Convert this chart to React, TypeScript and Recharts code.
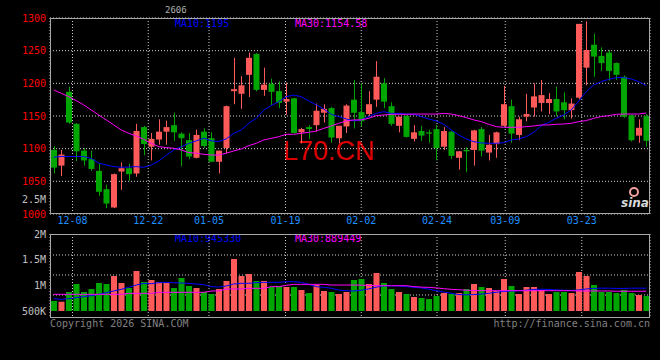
import { ComposedChart, Bar, Line, XAxis, YAxis, CartesianGrid, Cell } from "recharts";

const RED = "#ff5a5a";
const GREEN = "#00a600";
const GRID = "#cfcfcf";
const MONO = "'DejaVu Sans Mono', monospace";

// daily candles (index 0 .. 79)
const opens = [
  1098, 1074, 1187, 1138, 1097, 1084, 1066, 1038, 1010, 1065, 1070, 1062, 1133, 1103, 1114, 1126, 1136, 1123, 1113, 1086,
  1126, 1116, 1080, 1101, 1188, 1184, 1213, 1245, 1190, 1199, 1188, 1172, 1177, 1125, 1133, 1136, 1155, 1162, 1116, 1134,
  1175, 1156, 1153, 1175, 1200, 1165, 1135, 1150, 1115, 1127, 1125, 1130, 1103, 1126, 1086, 1098, 1098, 1130, 1094, 1107,
  1135, 1165, 1121, 1149, 1163, 1170, 1170, 1176, 1171, 1159, 1178, 1224, 1259, 1242, 1247, 1231, 1210, 1151, 1120, 1150,
];
const highs = [
  1104, 1098, 1195, 1139, 1101, 1097, 1078, 1045, 1062, 1079, 1077, 1138, 1135, 1124, 1145, 1143, 1155, 1125, 1124, 1129,
  1131, 1125, 1097, 1166, 1239, 1211, 1247, 1246, 1224, 1207, 1203, 1201, 1178, 1132, 1136, 1169, 1168, 1164, 1135, 1168,
  1205, 1200, 1188, 1234, 1208, 1171, 1149, 1151, 1136, 1135, 1129, 1136, 1133, 1127, 1096, 1102, 1129, 1133, 1121, 1126,
  1196, 1175, 1149, 1184, 1200, 1205, 1185, 1195, 1186, 1177, 1291, 1295, 1276, 1255, 1251, 1232, 1212, 1152, 1145, 1153,
];
const lows = [
  1062, 1058, 1138, 1081, 1074, 1066, 1028, 1009, 1009, 1037, 1051, 1057, 1090, 1082, 1106, 1106, 1112, 1073, 1084, 1085,
  1101, 1080, 1062, 1093, 1168, 1161, 1179, 1188, 1181, 1167, 1162, 1152, 1123, 1108, 1115, 1126, 1140, 1109, 1108, 1124,
  1131, 1134, 1149, 1164, 1162, 1135, 1125, 1117, 1111, 1112, 1109, 1082, 1098, 1084, 1068, 1064, 1074, 1088, 1082, 1086,
  1134, 1109, 1113, 1142, 1149, 1157, 1153, 1150, 1145, 1146, 1175, 1197, 1210, 1219, 1204, 1205, 1147, 1111, 1109, 1103,
];
const closes = [
  1071, 1091, 1140, 1096, 1082, 1069, 1034, 1016, 1061, 1070, 1061, 1127, 1107, 1115, 1126, 1133, 1125, 1116, 1088, 1121,
  1104, 1080, 1097, 1165, 1191, 1197, 1239, 1190, 1198, 1187, 1170, 1176, 1124, 1130, 1130, 1158, 1161, 1117, 1135, 1166,
  1155, 1142, 1168, 1210, 1172, 1138, 1149, 1118, 1125, 1120, 1123, 1101, 1127, 1089, 1096, 1096, 1128, 1097, 1106, 1125,
  1168, 1123, 1145, 1153, 1180, 1182, 1176, 1157, 1159, 1169, 1291, 1251, 1241, 1231, 1219, 1213, 1149, 1113, 1132, 1112,
];

const ma10 = [
  1087, 1088, 1088, 1088, 1088, 1085, 1078, 1075, 1072.5, 1071.5, 1072, 1072.5, 1071.5, 1075, 1081, 1090, 1098, 1103, 1108, 1112,
  1116, 1112, 1111, 1115, 1123.5, 1128.6, 1139, 1146.5, 1159, 1166, 1172, 1179.6, 1182, 1179.6, 1173, 1167, 1160.7, 1152.6, 1149, 1145.4,
  1142.4, 1144, 1149, 1154, 1156.6, 1154, 1154, 1153, 1152.6, 1149, 1145.4, 1142.4, 1137.3, 1128.6, 1121, 1114.8, 1110.7, 1108.7, 1108.2, 1108.2,
  1109.2, 1113.3, 1114.8, 1118.4, 1125, 1135.2, 1140.3, 1146.5, 1151.6, 1159.2, 1173, 1187.3, 1197.5, 1202.6, 1206.1, 1208.7, 1208.7, 1206.6, 1202.6, 1196.5,
];
const ma30 = [
  1189.8, 1184.7, 1179.6, 1173.5, 1166.9, 1159.2, 1151.6, 1144, 1136.3, 1128.6, 1123.5, 1119.4, 1114.3, 1108.2, 1103.1, 1101.6, 1100.6, 1098, 1094, 1093,
  1091.3, 1090.3, 1090.3, 1093, 1096.5, 1099.5, 1104.6, 1108.2, 1113.3, 1115.8, 1118.4, 1122, 1122, 1123.5, 1125, 1127, 1131.1, 1134.7, 1138.8, 1142.4,
  1144, 1144, 1146.5, 1150.5, 1151.6, 1152.6, 1152.6, 1152.6, 1153, 1153, 1153, 1153, 1154, 1153, 1150.5, 1147.5, 1144, 1141.4, 1137.3, 1133.7,
  1132.7, 1132.7, 1132.7, 1133.7, 1134.7, 1136.3, 1136.3, 1137.3, 1137.8, 1138.8, 1141.4, 1142.9, 1146.5, 1149, 1150.5, 1152.6, 1153, 1153, 1153, 1154.6,
];

// volume in thousands
const volumes = [
  695, 681, 870, 1026, 870, 928, 1045, 1026, 1182, 1045, 948, 1279, 1065, 1104, 1065, 1045, 948, 1143, 987, 948,
  870, 831, 928, 1084, 1513, 1182, 1221, 1084, 1084, 968, 987, 968, 968, 909, 850, 1006, 890, 870, 831, 870,
  1104, 1123, 1026, 1240, 1045, 928, 870, 831, 773, 753, 734, 792, 850, 831, 850, 928, 1026, 968, 948, 890,
  1123, 987, 831, 968, 968, 909, 831, 870, 870, 850, 1260, 1182, 1006, 870, 870, 850, 909, 850, 812, 792,
];
const volMa10 = [
  740, 727, 740, 760, 779, 799, 825, 857, 890, 922, 961, 1006, 1039, 1032, 1052, 1058, 1052, 1045, 1039, 1026,
  1013, 974, 967, 987, 1026, 1039, 1039, 1052, 1058, 1058, 1058, 1071, 1071, 1058, 1019, 974, 961, 942, 909, 896,
  890, 905, 930, 965, 990, 990, 985, 975, 960, 950, 925, 895, 870, 845, 820, 815, 820, 830, 845, 865,
  880, 890, 895, 905, 920, 925, 920, 910, 905, 900, 910, 930, 940, 945, 945, 940, 940, 945, 945, 945,
];
const volMa30 = [
  825, 825, 825, 825, 825, 825, 825, 825, 825, 825, 844, 844, 844, 844, 864, 864, 864, 864, 864, 864,
  864, 890, 890, 929, 929, 929, 942, 942, 942, 974, 974, 1000, 1019, 1019, 1019, 1019, 1019, 1006, 1006, 1006,
  1006, 1003, 1000, 993, 993, 993, 993, 993, 975, 965, 960, 950, 935, 922, 915, 905, 898, 896, 896, 896,
  896, 896, 896, 896, 896, 896, 896, 896, 896, 896, 890, 890, 890, 890, 890, 885, 885, 885, 885, 885,
];

// date ticks (position in candle index units, label)
const dateTickPos = [2.5, 12.6, 20.7, 30.9, 41, 51.1, 60.2, 70.4];
const dateTickLabels = ["12-08", "12-22", "01-05", "01-19", "02-02", "02-24", "03-09", "03-23"];

const priceTicks = [1000, 1050, 1100, 1150, 1200, 1250, 1300];
const volTicks = [500000, 1000000, 1500000, 2000000];
const volTickLabels = ["500K", "1M", "1.5M", "2M"];

const rows = opens.map((o, i) => ({
  i,
  open: o,
  high: highs[i],
  low: lows[i],
  close: closes[i],
  range: [lows[i], highs[i]],
  ma10: ma10[i],
  ma30: ma30[i],
  vol: [500000, volumes[i] * 1000],
  vma10: volMa10[i] * 1000,
  vma30: volMa30[i] * 1000,
  up: closes[i] >= o,
}));

const Candle = (props: any) => {
  const { x, y, width, height, payload } = props;
  const top = Math.min(y, y + height);
  const h = Math.abs(height);
  const k = h / (payload.high - payload.low);
  const color = payload.up ? RED : GREEN;
  const bodyTop = top + (payload.high - Math.max(payload.open, payload.close)) * k;
  const bodyH = Math.max(1, Math.abs(payload.close - payload.open) * k);
  const cx = Math.floor(x + width / 2) + 0.5;
  return (
    <g>
      <line x1={cx} x2={cx} y1={top} y2={top + h} stroke={color} strokeWidth={1} />
      <rect x={x} y={bodyTop} width={width} height={bodyH} fill={color} />
    </g>
  );
};

const labelFont = { fontFamily: MONO, fontSize: 10 };

export default function App() {
  return (
    <div style={{ position: "fixed", top: 0, left: 0, width: 660, height: 360, background: "#000", overflow: "hidden" }}>
      {/* frames and static text behind the charts */}
      <svg width={660} height={360} style={{ position: "absolute", top: 0, left: 0 }}>
        <text x={283} y={160} fill="#dd0000" fontFamily="'Liberation Sans', Arial, sans-serif" fontSize={27}>
          L70.CN
        </text>
        <text x={165} y={13} fill="#b0b0b0" fontFamily={MONO} fontSize={9}>2606</text>
        <text x={175} y={27} fill="#0000ff" {...labelFont}>MA10:1195</text>
        <text x={295} y={27} fill="#ff00ff" {...labelFont}>MA30:1154.58</text>
        <text x={46} y={203} fill="#c0c0c0" textAnchor="end" {...labelFont}>2.5M</text>
        <text x={175} y={242} fill="#0000ff" {...labelFont}>MA10:945330</text>
        <text x={295} y={242} fill="#ff00ff" {...labelFont}>MA30:889449</text>
        <text x={50} y={327} fill="#808080" {...labelFont}>Copyright 2026 SINA.COM</text>
        <text x={650} y={327} fill="#808080" textAnchor="end" {...labelFont}>http://finance.sina.com.cn</text>
        <circle cx={634} cy={192} r={4} fill="none" stroke="#f4a0a0" strokeWidth={2} />
        <text x={621} y={207} fill="#d8d8d8" fontFamily="'DejaVu Sans', sans-serif" fontSize={12} fontStyle="italic" fontWeight="bold">
          sina
        </text>
      </svg>

      {/* price panel */}
      <div style={{ position: "absolute", top: 0, left: 0 }}>
        <ComposedChart width={660} height={360} data={rows} margin={{ top: 18, right: 10, bottom: 130, left: 0 }}>
          <CartesianGrid stroke={GRID} strokeDasharray="1 2" />
          <XAxis
            dataKey="i"
            type="number"
            domain={[-0.5, 79.5]}
            allowDataOverflow
            ticks={dateTickPos}
            interval={0}
            tickFormatter={(v: number) => dateTickLabels[dateTickPos.indexOf(v)] ?? ""}
            height={16}
            tickSize={0}
            tickMargin={3}
            axisLine={false}
            tick={{ fill: "#1e90ff", ...labelFont }}
          />
          <YAxis
            type="number"
            domain={[1000, 1300]}
            allowDataOverflow
            ticks={priceTicks}
            interval={0}
            width={50}
            tickSize={0}
            tickMargin={4}
            axisLine={false}
            tick={{ fill: "#ff0000", ...labelFont }}
          />
          <Bar dataKey="range" barSize={6} shape={<Candle />} isAnimationActive={false} />
          <Line dataKey="ma10" type="linear" stroke="#0000ff" strokeWidth={1} dot={false} isAnimationActive={false} />
          <Line dataKey="ma30" type="linear" stroke="#ff00ff" strokeWidth={1} dot={false} isAnimationActive={false} />
        </ComposedChart>
      </div>

      {/* volume panel */}
      <div style={{ position: "absolute", top: 0, left: 0 }}>
        <ComposedChart width={660} height={360} data={rows} margin={{ top: 234, right: 10, bottom: 42, left: 0 }}>
          <CartesianGrid stroke={GRID} strokeDasharray="1 2" horizontalPoints={[255, 275, 295]} />
          <XAxis dataKey="i" type="number" domain={[-0.5, 79.5]} allowDataOverflow ticks={dateTickPos} interval={0} hide />
          <YAxis
            type="number"
            domain={[363640, 2000000]}
            allowDataOverflow
            ticks={volTicks}
            interval={0}
            tickFormatter={(v: number) => volTickLabels[volTicks.indexOf(v)] ?? ""}
            width={50}
            tickSize={0}
            tickMargin={4}
            axisLine={false}
            tick={{ fill: "#c0c0c0", ...labelFont }}
          />
          <Bar dataKey="vol" barSize={6} isAnimationActive={false}>
            {rows.map((r) => (
              <Cell key={r.i} fill={r.up ? RED : GREEN} />
            ))}
          </Bar>
          <Line dataKey="vma10" type="linear" stroke="#0000ff" strokeWidth={1} dot={false} isAnimationActive={false} />
          <Line dataKey="vma30" type="linear" stroke="#ff00ff" strokeWidth={1} dot={false} isAnimationActive={false} />
        </ComposedChart>
      </div>

      {/* panel frames */}
      <svg width={660} height={360} style={{ position: "absolute", top: 0, left: 0, pointerEvents: "none" }}>
        <rect x={50.5} y={18.5} width={599} height={195} fill="none" stroke="#a8a8a8" />
        <rect x={50.5} y={234.5} width={599} height={83} fill="none" stroke="#a8a8a8" />
      </svg>
    </div>
  );
}
